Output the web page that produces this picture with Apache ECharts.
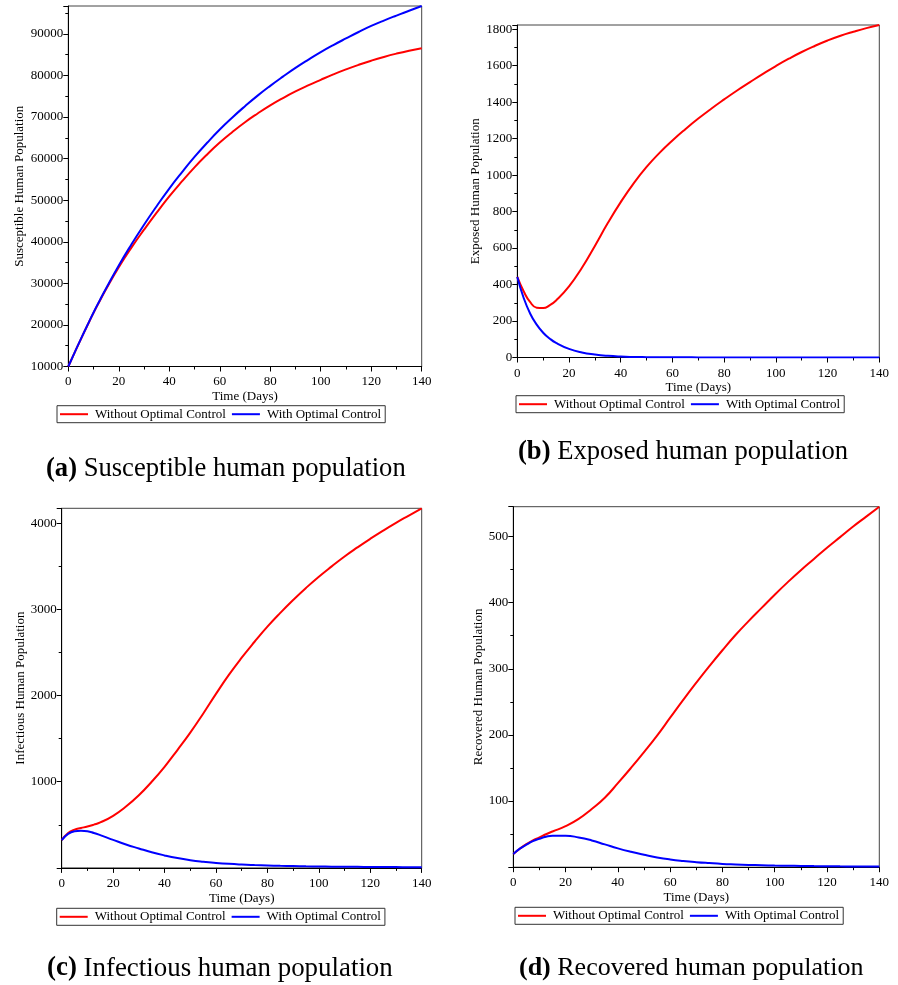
<!DOCTYPE html>
<html>
<head>
<meta charset="utf-8">
<script src="https://cdn.jsdelivr.net/npm/echarts@6/dist/echarts.min.js"></script>
<style>
  html, body { margin: 0; padding: 0; background: #fff; }
  #chart { width: 898px; height: 985px; }
</style>
</head>
<body>
<div id="chart"></div>
<script>
// Time grid (days) shared by every compartment
const days = [0, 2.5, 5, 7.5, 10, 12.5, 15, 20, 25, 30, 35, 40, 45, 50, 55, 60, 65, 70, 75, 80, 85, 90, 95, 100, 105, 110, 115, 120, 125, 130, 135, 140];

// Susceptible humans
const susceptibleWithout = [10000, 13330, 16600, 19780, 22900, 25800, 28650, 33900, 38600, 42900, 47000, 50900, 54500, 57900, 61000, 63850, 66400, 68750, 70850, 72800, 74550, 76150, 77600, 78950, 80250, 81450, 82550, 83550, 84450, 85250, 85950, 86550];
const susceptibleWith    = [10000, 13350, 16650, 19850, 23000, 25950, 28800, 34300, 39350, 44100, 48550, 52800, 56700, 60400, 63800, 67000, 69900, 72600, 75150, 77500, 79700, 81800, 83750, 85600, 87300, 88900, 90450, 91900, 93200, 94400, 95550, 96700];

// Exposed humans
const exposedWithout = [442, 362, 303, 273, 271, 286, 313, 390, 492, 612, 737, 852, 955, 1045, 1122, 1190, 1252, 1310, 1364, 1415, 1464, 1510, 1555, 1598, 1638, 1675, 1708, 1738, 1764, 1786, 1806, 1823];
const exposedWith    = [442, 325, 240, 180, 136, 104, 80, 47, 27, 16, 9, 5, 3, 2, 1.4, 1, 0.8, 0.6, 0.5, 0.4, 0.35, 0.3, 0.25, 0.2, 0.2, 0.2, 0.15, 0.1, 0.1, 0.1, 0.1, 0.1];

// Infectious humans
const infectiousWithout = [322, 405, 445, 463, 480, 502, 528, 605, 712, 843, 1000, 1174, 1368, 1570, 1790, 2020, 2240, 2440, 2625, 2800, 2960, 3110, 3250, 3380, 3500, 3615, 3720, 3820, 3915, 4005, 4090, 4174];
const infectiousWith    = [322, 395, 425, 431, 425, 405, 380, 325, 272, 226, 182, 145, 114, 90, 72, 58, 47, 39, 33, 28, 24, 21, 18, 16, 14.5, 13, 12, 11, 10, 9, 8.5, 8];

// Recovered humans
const recoveredWithout = [20, 28, 35, 40.5, 45, 49.8, 54, 62, 73, 88, 105, 127, 150, 174, 199, 226, 253, 279, 304, 328, 351, 372, 392, 412, 431, 449, 466, 483, 499, 515, 530, 545];
const recoveredWith    = [20, 28, 34, 39.5, 43, 46, 47.5, 47.5, 45, 40.5, 34.5, 28.5, 23.3, 18.8, 14.8, 11.7, 9.4, 7.6, 6.2, 5, 4.2, 3.5, 3, 2.5, 2.2, 2, 1.7, 1.5, 1.3, 1.2, 1.1, 1];

const seriesNames = ['Without Optimal Control', 'With Optimal Control'];
const seriesColors = ['#ff0000', '#0000ff'];
const yTitles = ['Susceptible Human Population', 'Exposed Human Population', 'Infectious Human Population', 'Recovered Human Population'];
const xTitle = 'Time (Days)';
const captionTags = ['(a)', '(b)', '(c)', '(d)'];
const captionTexts = ['Susceptible human population', 'Exposed human population', 'Infectious human population', 'Recovered human population'];
const yIntervals = [10000, 200, 1000, 100];
const yMins = [10000, 0, 0, 0];

const FONT = '"Liberation Serif", "Times New Roman", serif';

// Layout of the four panels
const panels = [
  { grid: { left: 68.3, top: 6, width: 353.4, height: 360.5 }, yGap: 42, xGap: 24, xMargin: 9, showMin: true,
    legend: { left: 57, top: 405.7 }, caption: { x: 46, y: 469, size: 26.6 },
    data: [susceptibleWithout, susceptibleWith] },
  { grid: { left: 517.3, top: 25, width: 362, height: 332.5 }, yGap: 31, xGap: 21, xMargin: 10, showMin: true,
    legend: { left: 516, top: 395.7 }, caption: { x: 518, y: 452, size: 26.6 },
    data: [exposedWithout, exposedWith] },
  { grid: { left: 61.7, top: 508.3, width: 360, height: 359.6 }, yGap: 35, xGap: 24, xMargin: 9, showMin: false,
    legend: { left: 56.7, top: 908.3 }, caption: { x: 47, y: 968.5, size: 26.9 },
    data: [infectiousWithout, infectiousWith] },
  { grid: { left: 513.3, top: 506.7, width: 366, height: 360.5 }, yGap: 28, xGap: 24, xMargin: 9, showMin: false,
    legend: { left: 515, top: 907.3 }, caption: { x: 519, y: 968, size: 26.0 },
    data: [recoveredWithout, recoveredWith] }
];

const axisText = { color: '#000', fontFamily: FONT, fontSize: 13 };

const option = {
  animation: false,
  backgroundColor: '#fff',
  grid: [], xAxis: [], yAxis: [], legend: [], series: [], graphic: []
};

panels.forEach((p, i) => {
  option.grid.push(Object.assign({ show: true, borderColor: '#444', borderWidth: 1, containLabel: false }, p.grid));

  option.xAxis.push({
    type: 'value', gridIndex: i, min: 0, max: 140, interval: 20,
    name: xTitle, nameLocation: 'middle', nameGap: p.xGap,
    nameTextStyle: axisText,
    axisLine: { show: true, onZero: false, lineStyle: { color: '#000', width: 1 } },
    axisTick: { show: true, length: 5, lineStyle: { color: '#000' } },
    minorTick: { show: true, splitNumber: 2, length: 3, lineStyle: { color: '#000' } },
    splitLine: { show: false },
    axisLabel: Object.assign({ margin: p.xMargin }, axisText)
  });

  option.yAxis.push({
    type: 'value', gridIndex: i, min: yMins[i], max: v => v.max, interval: yIntervals[i],
    name: yTitles[i], nameLocation: 'middle', nameGap: p.yGap, nameRotate: 90,
    nameTextStyle: axisText,
    axisLine: { show: true, onZero: false, lineStyle: { color: '#000', width: 1 } },
    axisTick: { show: true, length: 5, lineStyle: { color: '#000' } },
    minorTick: { show: true, splitNumber: 2, length: 3, lineStyle: { color: '#000' } },
    splitLine: { show: false },
    axisLabel: Object.assign({
      margin: 5, showMinLabel: p.showMin, showMaxLabel: false,
      formatter: v => String(v)
    }, axisText)
  });

  p.data.forEach((vals, k) => {
    option.series.push({
      type: 'line', name: seriesNames[k], xAxisIndex: i, yAxisIndex: i,
      data: days.map((d, j) => [d, vals[j]]),
      showSymbol: false, smooth: 0.5,
      lineStyle: { color: seriesColors[k], width: 2 },
      itemStyle: { color: seriesColors[k] },
      z: k === 0 ? 2 : 3
    });
  });

  option.legend.push({
    data: seriesNames, left: p.legend.left, top: p.legend.top,
    orient: 'horizontal', icon: 'rect', itemWidth: 28, itemHeight: 2, itemGap: 6,
    padding: [2, 4, 2, 3], borderColor: '#333', borderWidth: 1, backgroundColor: '#fff',
    selectedMode: false,
    textStyle: { color: '#000', fontFamily: FONT, fontSize: 13, padding: [0, 0, 0, 2] }
  });

  option.graphic.push({
    type: 'text', x: p.caption.x, y: p.caption.y,
    style: {
      text: '{b|' + captionTags[i] + '} ' + captionTexts[i],
      fill: '#000', fontFamily: FONT, fontSize: p.caption.size, verticalAlign: 'middle',
      rich: { b: { fontWeight: 'bold', fontFamily: FONT, fontSize: p.caption.size, fill: '#000' } }
    }
  });
});

const chart = echarts.init(document.getElementById('chart'), null, { renderer: 'canvas' });
chart.setOption(option);
</script>
</body>
</html>
